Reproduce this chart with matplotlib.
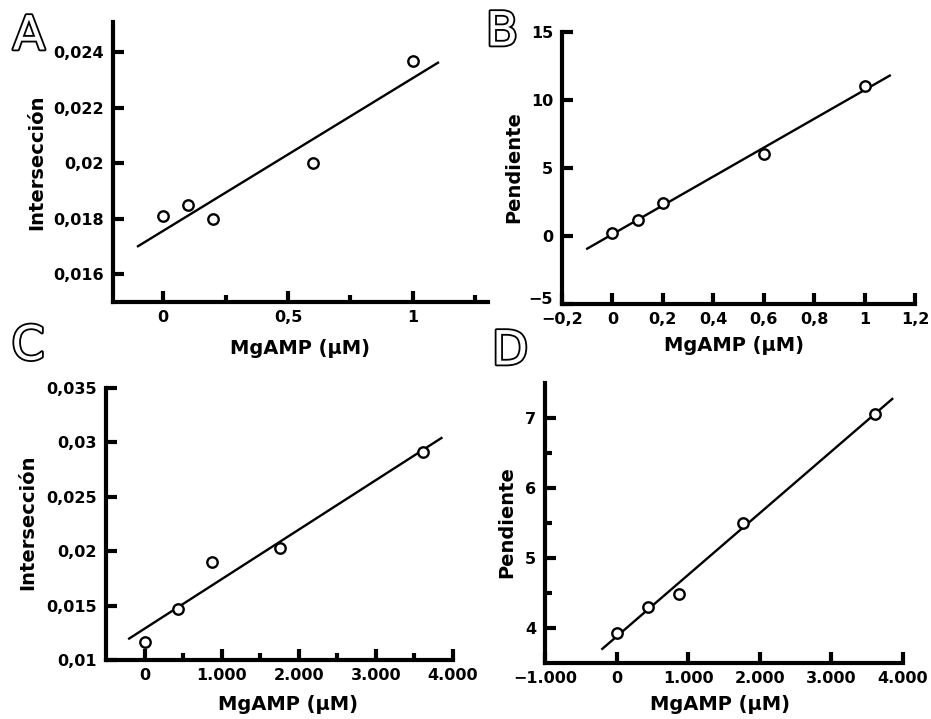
import numpy as np
import matplotlib
matplotlib.use("Agg")
import matplotlib.pyplot as plt
import matplotlib.patheffects as pe
import matplotlib.transforms as mtransforms

plt.rcParams["font.family"] = ["DejaVu Sans"]
plt.rcParams["font.weight"] = "bold"

# panel A / B: MgAMP in uM
mgamp_ab = [0, 0.1, 0.2, 0.6, 1.0]
intercept_a = [0.0181, 0.0185, 0.0180, 0.0200, 0.0237]
slope_b = [0.2, 1.2, 2.4, 6.0, 11.0]

# panel C / D
mgamp_cd = [0, 440, 870, 1760, 3610]
intercept_c = [0.0117, 0.0147, 0.0190, 0.0203, 0.0291]
slope_d = [3.93, 4.30, 4.49, 5.50, 7.06]

# extent of the fitted lines
fit_ab = [-0.1, 1.1]
fit_cd = [-200, 3850]

xlabel = "MgAMP (μM)"

W, H = 931, 719
fig = plt.figure(figsize=(W / 100, H / 100), dpi=100)


def make_ax(left, right, top, bottom):
    ax = fig.add_axes([left / W, (H - bottom) / H, (right - left) / W, (bottom - top) / H])
    for s in ["top", "right"]:
        ax.spines[s].set_visible(False)
    for s in ["left", "bottom"]:
        ax.spines[s].set_linewidth(3)
    ax.tick_params(which="major", direction="in", length=8, width=3, labelsize=11.5)
    ax.tick_params(axis="y", pad=6.5)
    ax.tick_params(axis="x", pad=6)
    ax.tick_params(which="minor", direction="in", length=5, width=3)
    ax.patch.set_alpha(0)
    return ax


def labels(ax, ylab, ylab_x, ylab_y, xlab_x, xlab_y):
    # label centres given in figure pixels from the top-left
    ax.set_ylabel(ylab, fontsize=14, fontweight="bold")
    ax.set_xlabel(xlabel, fontsize=14, fontweight="bold")
    ax.yaxis.set_label_coords((ylab_x + 11) / W, 1 - ylab_y / H, transform=fig.transFigure)
    ax.xaxis.set_label_coords(xlab_x / W, 1 - (xlab_y - 11) / H, transform=fig.transFigure)


def draw(ax, x, y, fit_x):
    k, b = np.polyfit(x, y, 1)
    fx = np.array(fit_x)
    ax.plot(fx, k * fx + b, color="black", lw=1.7, zorder=2)
    ax.plot(x, y, "o", mfc="white", mec="black", mew=1.7, ms=7.5, zorder=3, clip_on=False)


def letter(x, y, s):
    fig.text(x / W, 1 - y / H, s, fontsize=34, fontweight="normal", color="white",
             ha="center", va="center", family="DejaVu Sans",
             path_effects=[pe.withStroke(linewidth=2.6, foreground="black")])


# A
ax = make_ax(113, 488, 22, 302)
draw(ax, mgamp_ab, intercept_a, fit_ab)
ax.set_xlim(-0.2, 1.3)
ax.set_ylim(0.015, 0.0251)
ax.set_xticks([0, 0.5, 1], ["0", "0,5", "1"])
ax.set_xticks([0.25, 0.75, 1.25], minor=True)
ax.set_yticks([0.016, 0.018, 0.02, 0.022, 0.024], ["0,016", "0,018", "0,02", "0,022", "0,024"])
labels(ax, "Intersección", 35, 162, 300, 350)

# B
ax = make_ax(562, 915, 32, 304)
draw(ax, mgamp_ab, slope_b, fit_ab)
ax.set_xlim(-0.2, 1.2)
ax.set_ylim(-5, 15)
ax.set_xticks([-0.2, 0, 0.2, 0.4, 0.6, 0.8, 1, 1.2],
              ["\u22120,2", "0", "0,2", "0,4", "0,6", "0,8", "1", "1,2"])
ax.set_yticks([-5, 0, 5, 10, 15], ["\u22125", "0", "5", "10", "15"])
labels(ax, "Pendiente", 512, 167, 734, 347)
lab = ax.yaxis.get_major_ticks()[0].label1
lab.set_transform(lab.get_transform() + mtransforms.ScaledTranslation(0, 4 / 72, fig.dpi_scale_trans))

# C
ax = make_ax(106, 453, 388, 660)
draw(ax, mgamp_cd, intercept_c, fit_cd)
ax.set_xlim(-500, 4000)
ax.set_ylim(0.01, 0.035)
ax.set_xticks([0, 1000, 2000, 3000, 4000], ["0", "1.000", "2.000", "3.000", "4.000"])
ax.set_xticks([500, 1500, 2500, 3500], minor=True)
ax.set_yticks([0.01, 0.015, 0.02, 0.025, 0.03, 0.035],
              ["0,01", "0,015", "0,02", "0,025", "0,03", "0,035"])
labels(ax, "Intersección", 26, 522, 288, 706)

# D
ax = make_ax(545, 903, 383, 663)
draw(ax, mgamp_cd, slope_d, fit_cd)
ax.set_xlim(-1000, 4000)
ax.set_ylim(3.5, 7.5)
ax.set_xticks([-1000, 0, 1000, 2000, 3000, 4000],
              ["\u22121.000", "0", "1.000", "2.000", "3.000", "4.000"])
ax.set_yticks([4, 5, 6, 7], ["4", "5", "6", "7"])
ax.set_yticks([4.5, 5.5, 6.5], minor=True)
labels(ax, "Pendiente", 505, 522, 720, 706)

letter(29, 37, "A")
letter(502, 33, "B")
letter(28, 347, "C")
letter(510, 352, "D")

fig.savefig("out.png", dpi=100, facecolor="white")
